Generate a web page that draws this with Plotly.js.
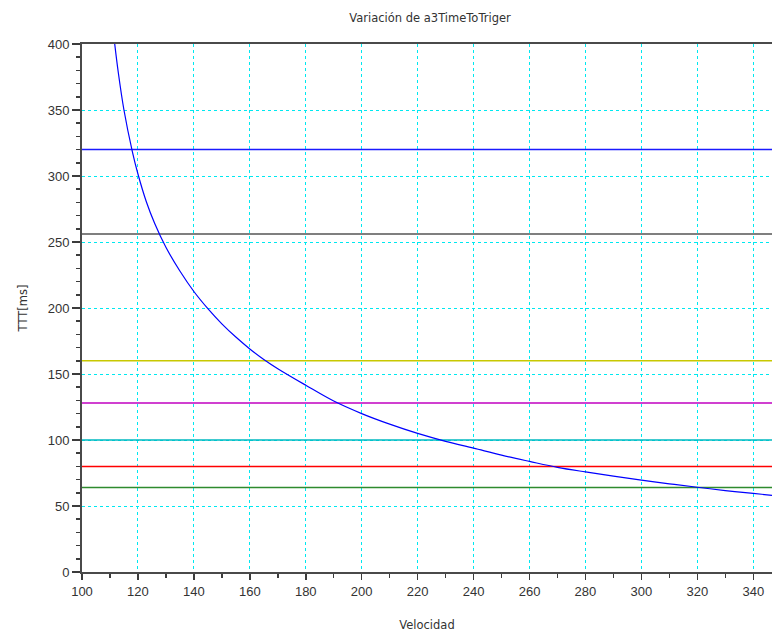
<!DOCTYPE html>
<html>
<head>
<meta charset="utf-8">
<script src="https://cdn.plot.ly/plotly-3.0.1.min.js"></script>
<style>html,body{margin:0;padding:0;background:#fff;}#chart{width:772px;height:632px;}</style>
</head>
<body>
<div id="chart"></div>
<script>
// Curve: TTT vs velocidad
var velocidad = [111.7, 113, 115, 118, 120, 123, 126, 130, 135, 140, 145, 150, 155, 160, 165, 170, 180, 190, 200, 210, 220, 230, 240, 250, 260, 270, 280, 290, 300, 310, 320, 330, 340, 346.7];
var ttt       = [400,   378, 350, 318.5, 301.5, 280.5, 264, 246, 228, 212.5, 199.5, 188, 178, 169, 161, 154, 141.5, 129.5, 120, 112, 105, 99, 93.8, 88.5, 83.8, 79.3, 75.8, 72.6, 69.6, 66.8, 64.2, 61.7, 59.5, 58.1];
// Reference TTT levels (horizontal lines)
var levels = [320, 256, 160, 128, 100, 80, 64];
var levelColors = ['#1a1aff', '#555555', '#c8c800', '#c000c0', '#00b8c0', '#ff0000', '#2e8b2e'];
var velRange = [100, 346.7];
var yTicks = [0, 50, 100, 150, 200, 250, 300, 350, 400];
var xTicks = [100, 120, 140, 160, 180, 200, 220, 240, 260, 280, 300, 320, 340];

var traces = [];
levels.forEach(function (lv, i) {
  traces.push({
    x: velRange, y: [lv, lv], mode: 'lines', type: 'scatter',
    line: {color: levelColors[i], width: 1.5}, hoverinfo: 'skip'
  });
});
traces.push({
  x: velocidad, y: ttt, mode: 'lines', type: 'scatter',
  line: {color: '#0000ff', width: 1.2, shape: 'spline', smoothing: 1}
});

var axisFont = {family: 'Liberation Sans, Arial, sans-serif', size: 13, color: '#333333'};
var layout = {
  width: 772, height: 632,
  margin: {l: 82, r: 0, t: 44, b: 60.3},
  paper_bgcolor: '#ffffff', plot_bgcolor: '#ffffff',
  showlegend: false,
  title: {text: 'Variación de a3TimeToTriger', x: 0.557, xref: 'container', y: 1 - 18 / 632, yref: 'container', yanchor: 'middle',
          font: {family: 'DejaVu Sans, sans-serif', size: 11.5, color: '#333333'}},
  xaxis: {
    range: velRange, tickvals: xTicks, ticktext: xTicks.map(String),
    ticks: 'outside', ticklen: 6, tickwidth: 1.5, tickcolor: '#3c3c3c',
    showline: true, linecolor: '#4a4a4a', linewidth: 2, mirror: true,
    showgrid: true, gridcolor: '#00e8f0', griddash: 'dot', gridwidth: 1,
    zeroline: false, tickfont: axisFont,
    minor: {dtick: 10, tick0: 100, ticks: 'outside', ticklen: 4, tickcolor: '#3c3c3c', tickwidth: 1.5, showgrid: false},
    title: {text: 'Velocidad', standoff: 24, font: {family: 'DejaVu Sans, sans-serif', size: 11.5, color: '#333333'}}
  },
  yaxis: {
    range: [0, 400], tickvals: yTicks, ticktext: yTicks.map(String),
    ticks: 'outside', ticklen: 8, tickwidth: 1.5, tickcolor: '#3c3c3c',
    showline: true, linecolor: '#4a4a4a', linewidth: 2, mirror: false,
    showgrid: true, gridcolor: '#00e8f0', griddash: 'dot', gridwidth: 1,
    zeroline: false, tickfont: axisFont,
    minor: {dtick: 10, tick0: 0, ticks: 'outside', ticklen: 4, tickcolor: '#3c3c3c', tickwidth: 1.5, showgrid: false},
    title: {text: 'TTT[ms]', standoff: 18, font: {family: 'DejaVu Sans, sans-serif', size: 11.5, color: '#333333'}}
  }
};

Plotly.newPlot('chart', traces, layout, {displayModeBar: false, staticPlot: true});
</script>
</body>
</html>
